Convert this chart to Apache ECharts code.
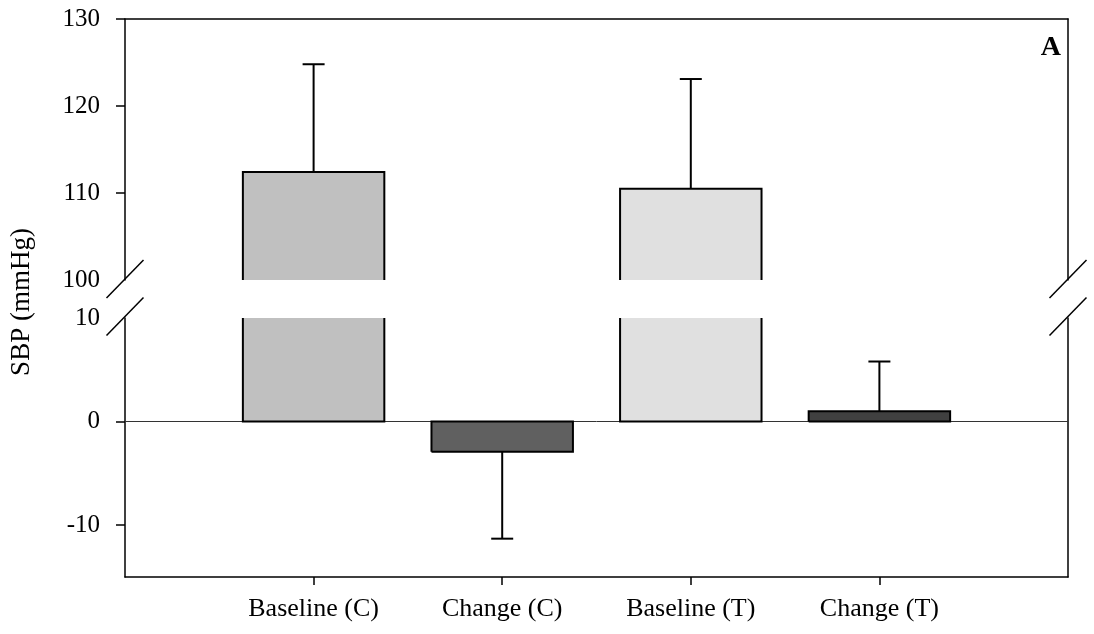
<!DOCTYPE html>
<html>
<head>
<meta charset="utf-8">
<script src="https://cdn.jsdelivr.net/npm/echarts@6/dist/echarts.min.js"></script>
<style>
  html, body { margin: 0; padding: 0; background: #fff; }
  #chart { width: 1094px; height: 634px; }
</style>
</head>
<body>
<div id="chart"></div>
<script>
// Systolic blood pressure: baseline and change, control (C) vs treatment (T)
const categories = ['Baseline (C)', 'Change (C)', 'Baseline (T)', 'Change (T)'];
const means = [112.4, -2.9, 110.5, 1.0];
const sds = [12.4, 8.4, 12.6, 4.8];

// Broken y axis: two segments
const upperTicks = [100, 110, 120, 130];
const lowerTicks = [-10, 0, 10];
const upperRange = [100, 130];
const lowerRange = [-15, 10];

// Styling
const barFills = ['#c0c0c0', '#606060', '#e0e0e0', '#404040'];
const FONT = 'Liberation Serif';
const GRID_LEFT = 125, GRID_RIGHT = 26;
const UPPER_TOP = 19, UPPER_H = 261;
const LOWER_TOP = 318, LOWER_H = 259;
const PLOT_RIGHT = 1094 - GRID_RIGHT;

const xData = [''].concat(categories, ['']);
const seriesData = means.map((m, i) => [i + 1, m, sds[i]]);

function makeRender(lo, hi) {
  return function (params, api) {
    const i = params.dataIndex;
    const x = api.value(0), v = api.value(1), sd = api.value(2);
    const band = api.size([1, 0])[0];
    const half = band * 0.75 / 2;
    const c = api.coord([x, 0])[0];
    const xl = c - half, xr = c + half;
    const barLo = Math.min(0, v), barHi = Math.max(0, v);
    const a = Math.max(barLo, lo), b = Math.min(barHi, hi);
    const children = [];
    const stroke = { stroke: '#000', lineWidth: 2, fill: null };
    if (a < b) {
      const ya = api.coord([x, a])[1], yb = api.coord([x, b])[1];
      children.push({
        type: 'rect',
        shape: { x: xl, y: Math.min(ya, yb), width: xr - xl, height: Math.abs(ya - yb) },
        style: { fill: barFills[i], stroke: null }
      });
      const lowEdge = a === barLo, highEdge = b === barHi;
      let pts;
      if (lowEdge && highEdge) {
        pts = [[xl, ya], [xl, yb], [xr, yb], [xr, ya], [xl, ya]];
      } else if (highEdge) {
        pts = [[xl, ya], [xl, yb], [xr, yb], [xr, ya]];
      } else if (lowEdge) {
        pts = [[xl, yb], [xl, ya], [xr, ya], [xr, yb]];
      } else {
        children.push({ type: 'line', shape: { x1: xl, y1: ya, x2: xl, y2: yb }, style: stroke });
        children.push({ type: 'line', shape: { x1: xr, y1: ya, x2: xr, y2: yb }, style: stroke });
      }
      if (pts) children.push({ type: 'polyline', shape: { points: pts }, style: stroke });
    }
    // error bar pointing away from zero
    if (v >= lo && v <= hi) {
      const end = v + (v >= 0 ? sd : -sd);
      const endC = Math.min(Math.max(end, lo), hi);
      const y0 = api.coord([x, v])[1], y1 = api.coord([x, endC])[1];
      children.push({ type: 'line', shape: { x1: c, y1: y0, x2: c, y2: y1 }, style: { stroke: '#000', lineWidth: 2 } });
      if (endC === end) {
        children.push({ type: 'line', shape: { x1: c - 11, y1: y1, x2: c + 11, y2: y1 }, style: { stroke: '#000', lineWidth: 2 } });
      }
    }
    return { type: 'group', children: children };
  };
}

const axisLineStyle = { color: '#000', width: 1.5 };
const tickLabelStyle = { color: '#000', fontFamily: FONT, fontSize: 25 };
const catLabelStyle = { color: '#000', fontFamily: FONT, fontSize: 26 };

function breakMarks(cx) {
  return [279, 316.5].map(cy => ({
    type: 'line',
    shape: { x1: cx - 18.5, y1: cy + 19, x2: cx + 18.5, y2: cy - 19 },
    style: { stroke: '#000', lineWidth: 1.5 },
    z: 100
  }));
}

const chart = echarts.init(document.getElementById('chart'), null, { renderer: 'canvas' });
chart.setOption({
  animation: false,
  backgroundColor: '#fff',
  grid: [
    { left: GRID_LEFT, right: GRID_RIGHT, top: UPPER_TOP, height: UPPER_H },
    { left: GRID_LEFT, right: GRID_RIGHT, top: LOWER_TOP, height: LOWER_H }
  ],
  xAxis: [
    {
      gridIndex: 0, type: 'category', data: xData, boundaryGap: false, position: 'top',
      axisLine: { show: true, onZero: false, lineStyle: axisLineStyle },
      axisTick: { show: false }, axisLabel: { show: false }, splitLine: { show: false }
    },
    {
      gridIndex: 1, type: 'category', data: xData, boundaryGap: false, position: 'bottom',
      axisLine: { show: true, onZero: false, lineStyle: axisLineStyle },
      axisTick: {
        show: true, length: 8, inside: false, lineStyle: axisLineStyle,
        interval: (idx) => idx >= 1 && idx <= categories.length
      },
      axisLabel: Object.assign({ interval: 0, margin: 19 }, catLabelStyle),
      splitLine: { show: false }
    }
  ],
  yAxis: [
    {
      gridIndex: 0, type: 'value', position: 'left', min: upperRange[0], max: upperRange[1], interval: 10,
      axisLine: { show: true, lineStyle: axisLineStyle },
      axisTick: { show: true, length: 9, inside: false, lineStyle: axisLineStyle, customValues: upperTicks.slice(1) },
      axisLabel: Object.assign({ margin: 25, customValues: upperTicks }, tickLabelStyle),
      splitLine: { show: false }
    },
    {
      gridIndex: 1, type: 'value', position: 'left', min: lowerRange[0], max: lowerRange[1], interval: 5,
      axisLine: { show: true, lineStyle: axisLineStyle },
      axisTick: { show: true, length: 9, inside: false, lineStyle: axisLineStyle, customValues: lowerTicks.slice(0, 2) },
      axisLabel: Object.assign({ margin: 25, customValues: lowerTicks }, tickLabelStyle),
      splitLine: { show: false }
    },
    {
      gridIndex: 0, type: 'value', position: 'right', min: upperRange[0], max: upperRange[1],
      axisLine: { show: true, lineStyle: axisLineStyle },
      axisTick: { show: false }, axisLabel: { show: false }, splitLine: { show: false }
    },
    {
      gridIndex: 1, type: 'value', position: 'right', min: lowerRange[0], max: lowerRange[1],
      axisLine: { show: true, lineStyle: axisLineStyle },
      axisTick: { show: false }, axisLabel: { show: false }, splitLine: { show: false }
    }
  ],
  series: [
    {
      type: 'custom', name: 'upper', xAxisIndex: 0, yAxisIndex: 0,
      renderItem: makeRender(upperRange[0], upperRange[1]),
      data: seriesData, silent: true, z: 3
    },
    {
      type: 'custom', name: 'lower', xAxisIndex: 1, yAxisIndex: 1,
      renderItem: makeRender(lowerRange[0], lowerRange[1]),
      data: seriesData, silent: true, z: 3,
      markLine: {
        silent: true, symbol: ['none', 'none'], label: { show: false },
        lineStyle: { color: '#333', width: 1, type: 'solid' },
        data: [{ yAxis: 0 }], z: 1
      }
    }
  ],
  graphic: [
    {
      type: 'text', x: 22, y: 302, rotation: Math.PI / 2,
      style: { text: 'SBP (mmHg)', fill: '#000', font: '27px "Liberation Serif"', align: 'center', verticalAlign: 'middle' }
    },
    {
      type: 'text', x: 1061, y: 48,
      style: { text: 'A', fill: '#000', font: 'bold 28px "Liberation Serif"', align: 'right', verticalAlign: 'middle' }
    }
  ].concat(breakMarks(GRID_LEFT), breakMarks(PLOT_RIGHT))
});
</script>
</body>
</html>
